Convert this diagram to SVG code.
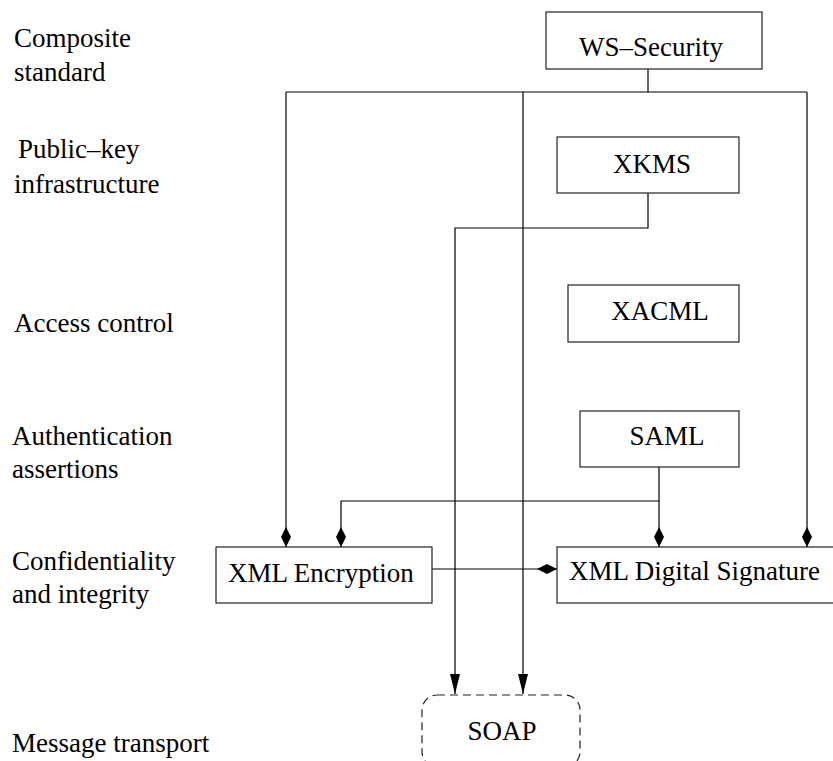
<svg xmlns="http://www.w3.org/2000/svg" width="833" height="761" viewBox="0 0 833 761">
<style>
.t{font-size:27px;fill:#000}
.box{fill:#fff;stroke:#222;stroke-width:1.2}
.soap{fill:none;stroke:#222;stroke-width:1.2;stroke-dasharray:8 5}
.c{fill:none;stroke:#000;stroke-width:1.2}
.mid{text-anchor:middle}
</style>
<defs>
<marker id="dia" markerUnits="userSpaceOnUse" viewBox="0 0 20 10" refX="20" refY="5" markerWidth="20" markerHeight="10" orient="auto">
<path d="M0,5 L10,0 L20,5 L10,10 Z" fill="#000"/>
</marker>
<marker id="tri" markerUnits="userSpaceOnUse" viewBox="0 0 20 10" refX="20" refY="5" markerWidth="20" markerHeight="10" orient="auto">
<path d="M0,0 L20,5 L0,10 Z" fill="#000"/>
</marker>
</defs>
<rect width="833" height="761" fill="#fff"/>
<g font-family="Liberation Serif">
<g id="labels">
<text class="t" x="14" y="47">Composite</text>
<text class="t" x="14" y="81">standard</text>
<text class="t" x="18" y="158">Public&#8211;key</text>
<text class="t" x="14" y="193">infrastructure</text>
<text class="t" x="14" y="332">Access control</text>
<text class="t" x="12" y="445">Authentication</text>
<text class="t" x="12" y="478">assertions</text>
<text class="t" x="12" y="570">Confidentiality</text>
<text class="t" x="12" y="603">and integrity</text>
<text class="t" x="12" y="752">Message transport</text>
</g>
<g id="connectors">
<path class="c" d="M648,69 V92"/>
<path class="c" d="M286,92 H807"/>
<path class="c" d="M286,92 V547" marker-end="url(#dia)"/>
<path class="c" d="M807,92 V547" marker-end="url(#dia)"/>
<path class="c" d="M523,92 V694" marker-end="url(#tri)"/>
<path class="c" d="M648,193 V228 H455 V694" marker-end="url(#tri)"/>
<path class="c" d="M659,467 V501 H341 V547" marker-end="url(#dia)"/>
<path class="c" d="M659,501 V547" marker-end="url(#dia)"/>
<path class="c" d="M432,569 H557" marker-end="url(#dia)"/>
</g>
<g id="ws-security">
<rect class="box" x="546" y="12" width="216" height="57"/>
<text class="t mid" x="651" y="56">WS&#8211;Security</text>
</g>
<g id="xkms">
<rect class="box" x="557" y="137" width="182" height="56"/>
<text class="t mid" x="652" y="173">XKMS</text>
</g>
<g id="xacml">
<rect class="box" x="568" y="285" width="171" height="57"/>
<text class="t mid" x="660" y="320">XACML</text>
</g>
<g id="saml">
<rect class="box" x="580" y="411" width="159" height="56"/>
<text class="t mid" x="667" y="445">SAML</text>
</g>
<g id="xml-encryption">
<rect class="box" x="216" y="547" width="216" height="56"/>
<text class="t" x="228" y="582">XML Encryption</text>
</g>
<g id="xml-digital-signature">
<rect class="box" x="557" y="547" width="290" height="56"/>
<text class="t" x="569" y="580">XML Digital Signature</text>
</g>
<g id="soap">
<rect class="soap" x="422" y="695" width="158" height="72" rx="15"/>
<text class="t mid" x="502" y="740">SOAP</text>
</g>
</g>
</svg>
